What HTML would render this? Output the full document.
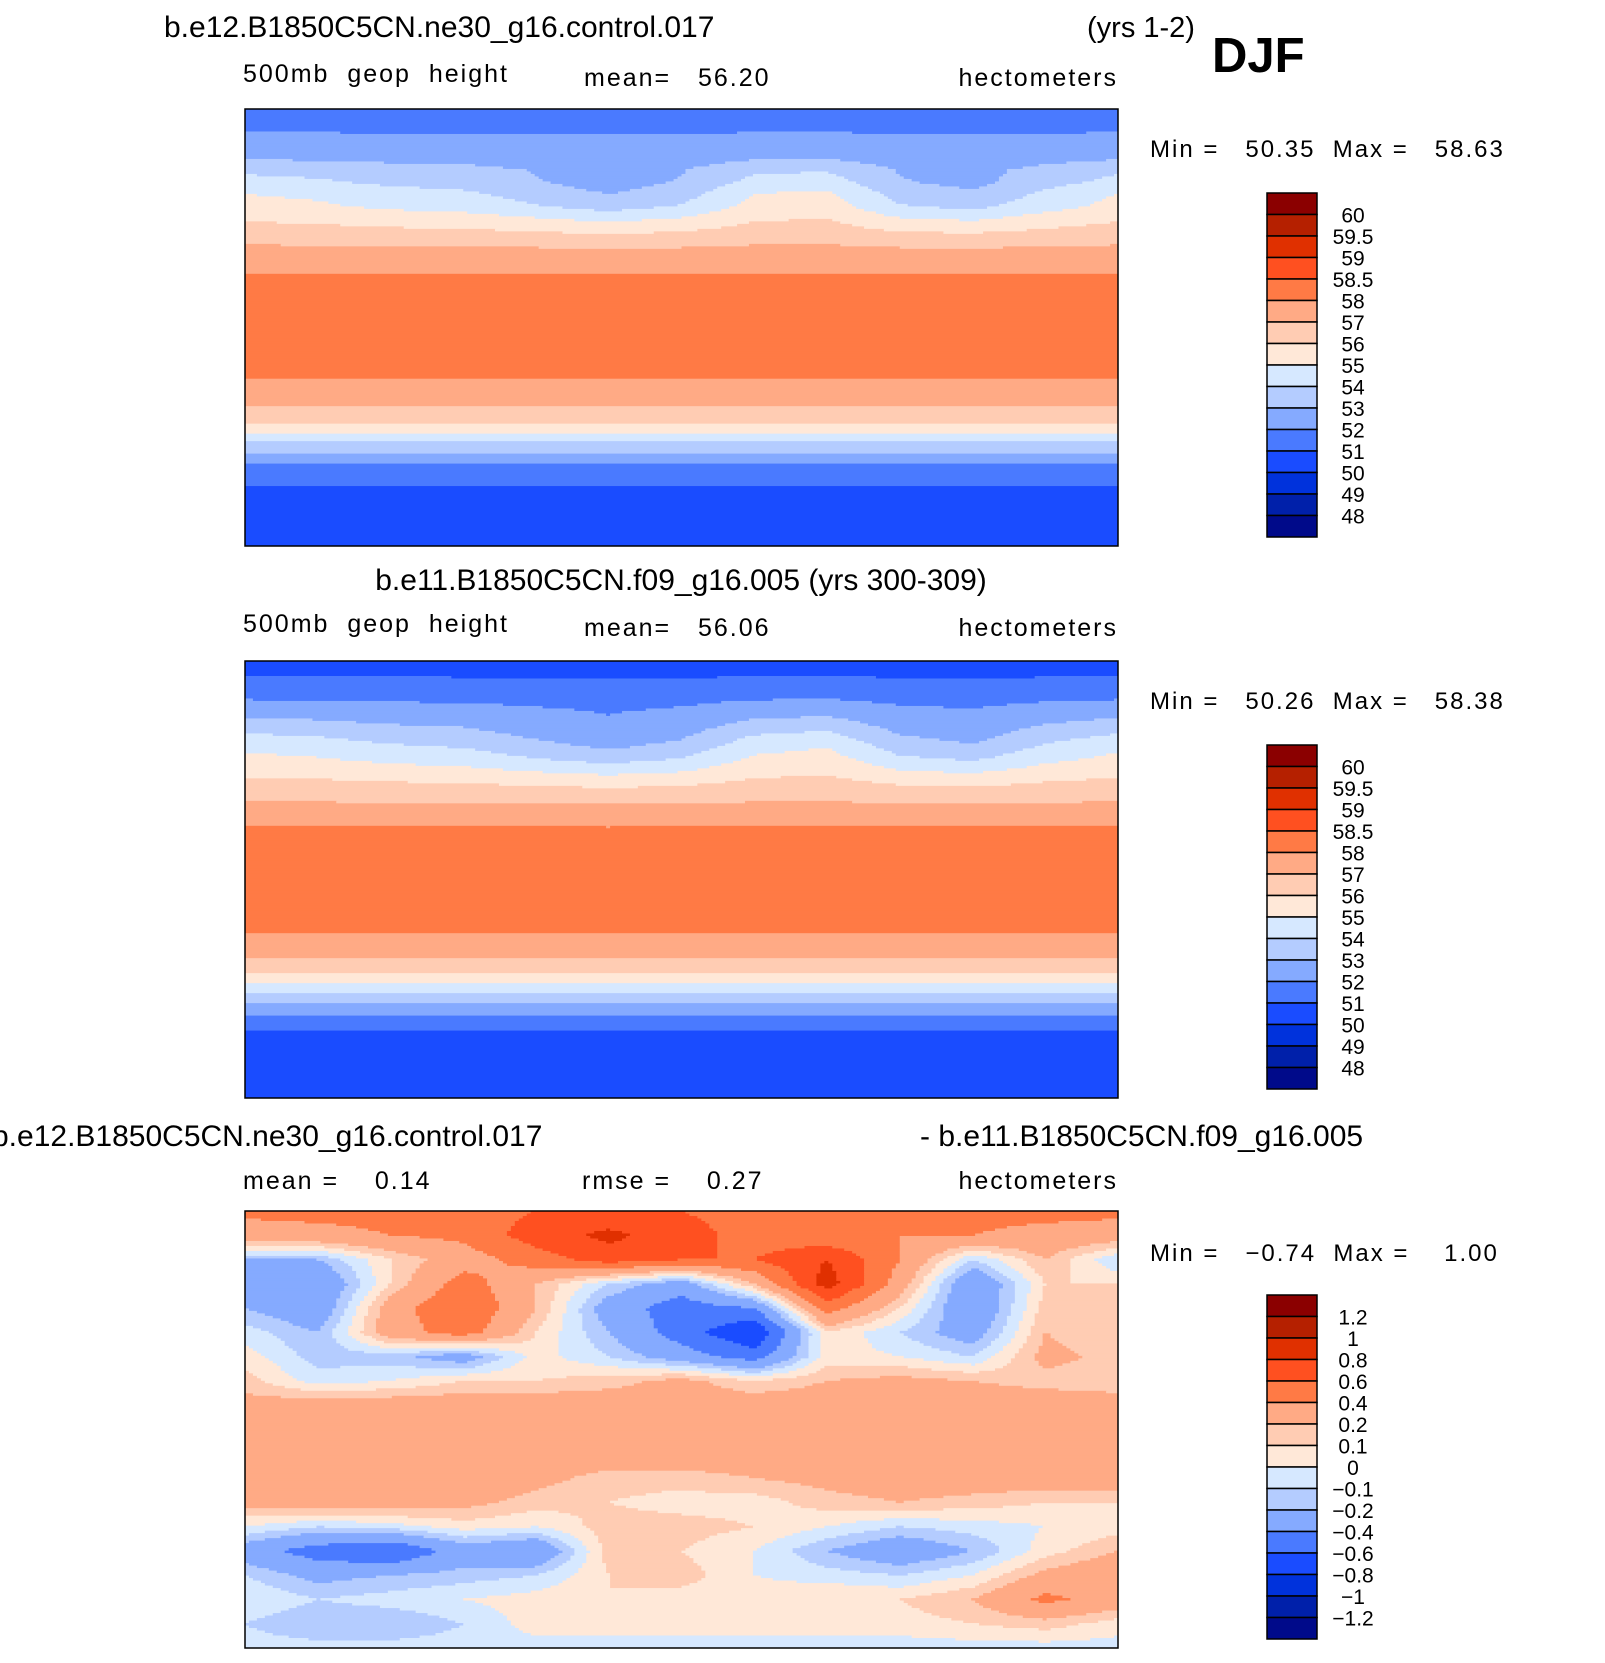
<!DOCTYPE html>
<html><head><meta charset="utf-8">
<style>
html,body{margin:0;padding:0;background:#fff;}
body{width:1605px;height:1663px;position:relative;overflow:hidden;font-family:"Liberation Sans",sans-serif;}
svg{position:absolute;left:0;top:0;}
text{white-space:pre;}
</style></head>
<body>
<svg id="fig" width="1605" height="1663" viewBox="0 0 1605 1663" xmlns="http://www.w3.org/2000/svg" font-family="Liberation Sans, sans-serif" xml:space="preserve">
  <g>
    <text x="164" y="37" font-size="30">b.e12.B1850C5CN.ne30_g16.control.017</text>
    <text x="1087" y="37" font-size="29">(yrs 1-2)</text>
    <text x="1212" y="72" font-size="49" font-weight="bold">DJF</text>
    <text x="243" y="82" font-size="25" letter-spacing="2">500mb  geop  height</text>
    <text x="584" y="86" font-size="25" letter-spacing="2">mean=   56.20</text>
    <text x="1118" y="86" font-size="25" text-anchor="end" letter-spacing="2">hectometers</text>
    <text x="1150" y="157" font-size="24" letter-spacing="2">Min =   50.35  Max =   58.63</text>
  </g>
  <g>
    <text x="681" y="590" font-size="30" text-anchor="middle">b.e11.B1850C5CN.f09_g16.005 (yrs 300-309)</text>
    <text x="243" y="632" font-size="25" letter-spacing="2">500mb  geop  height</text>
    <text x="584" y="636" font-size="25" letter-spacing="2">mean=   56.06</text>
    <text x="1118" y="636" font-size="25" text-anchor="end" letter-spacing="2">hectometers</text>
    <text x="1150" y="709" font-size="24" letter-spacing="2">Min =   50.26  Max =   58.38</text>
  </g>
  <g>
    <text x="-8" y="1146" font-size="30">b.e12.B1850C5CN.ne30_g16.control.017</text>
    <text x="920" y="1146" font-size="30">- b.e11.B1850C5CN.f09_g16.005</text>
    <text x="243" y="1189" font-size="25" letter-spacing="2">mean =    0.14</text>
    <text x="582" y="1189" font-size="25" letter-spacing="2">rmse =    0.27</text>
    <text x="1118" y="1189" font-size="25" text-anchor="end" letter-spacing="2">hectometers</text>
    <text x="1150" y="1261" font-size="24" letter-spacing="2">Min =   −0.74  Max =    1.00</text>
  </g>
  <g id="maps"></g>
  <g id="bars"></g>
</svg>
<script>
// ---- data ----
const colors = ['#000a8a','#0020aa','#0032dc','#1a4cff','#4a7aff','#85aaff','#b4ccff','#d6e8ff','#ffe8d8','#ffccb3','#ffaa85','#ff7a45','#ff5020','#e03000','#b52000','#8b0000'];
const levelsZ = [48,49,50,51,52,53,54,55,56,57,58,58.5,59,59.5,60];
const labelsZ = ['48','49','50','51','52','53','54','55','56','57','58','58.5','59','59.5','60'];
const levelsD = [-1.2,-1,-0.8,-0.6,-0.4,-0.2,-0.1,0,0.1,0.2,0.4,0.6,0.8,1,1.2];
const labelsD = ['\u22121.2','\u22121','\u22120.8','\u22120.6','\u22120.4','\u22120.2','\u22120.1','0','0.1','0.2','0.4','0.6','0.8','1','1.2'];
// zonal profiles, lat 90 -> -90 step 5
const profile1 = [51.6,51.6,52.0,52.5,52.6,53.3,53.6,54.2,54.6,55.4,56.1,56.8,57.4,57.8,58.2,58.3,58.3,58.3,58.3,58.3,58.3,58.3,58.1,57.7,57.2,56.7,56.0,54.6,53.3,52.3,51.3,51.0,50.6,50.6,50.8,50.9,50.9];
const profile2 = [50.8,50.9,51.2,51.8,52.3,52.8,53.4,54.0,54.6,55.3,56.0,56.6,57.2,57.8,58.1,58.2,58.2,58.2,58.2,58.2,58.2,58.2,58.1,57.8,57.3,56.6,55.8,54.5,53.2,52.2,51.2,50.8,50.7,50.7,50.8,50.9,50.9];
// northern mid-latitude wave anomaly (hm), 13 columns across map
const wave1 = [0.8,0.6,0.2,0.0,-0.6,-1.2,-0.6,0.8,1.0,-0.6,-1.0,0.0,0.8];
const wave2 = [0.7,0.5,0.1,-0.1,-0.7,-1.2,-0.7,0.6,0.9,-0.5,-0.9,0.1,0.7];
// difference grid: rows lat 90 -> -90 step 10, 13 columns across map
const diff90 = [0.45,0.45,0.45,0.5,0.6,0.65,0.6,0.5,0.45,0.45,0.45,0.45,0.45];
const diff80 = [0.3,0.35,0.4,0.45,0.7,0.85,0.7,0.5,0.45,0.4,0.4,0.35,0.3];
const diff70 = [-0.2,-0.2,0.1,0.3,0.5,0.7,0.6,0.6,0.8,0.4,-0.1,0.2,-0.1];
const diff60 = [-0.3,-0.4,0.1,0.5,0.2,-0.1,-0.3,0.2,0.9,0.3,-0.4,0.1,0.1];
const diff50 = [-0.2,-0.35,0.3,0.6,0.2,-0.3,-0.5,-0.4,0.5,0.1,-0.4,0.15,0.1];
const diff40 = [-0.05,-0.2,0.3,0.5,0.1,-0.2,-0.5,-0.8,0.1,-0.1,-0.3,0.2,0.1];
const diff30 = [0.05,-0.15,-0.15,-0.3,0.05,-0.1,-0.3,-0.5,0.05,0.0,-0.1,0.25,0.15];
const diff20 = [0.15,-0.05,0.0,0.1,0.1,0.15,0.25,0.1,0.2,0.25,0.2,0.15,0.15];
const diff10 = [0.25,0.3,0.3,0.3,0.3,0.3,0.3,0.3,0.3,0.3,0.3,0.3,0.25];
const diff00 = [0.3,0.3,0.3,0.3,0.3,0.3,0.3,0.3,0.3,0.3,0.3,0.3,0.3];
const diffS10 = [0.3,0.3,0.3,0.3,0.3,0.3,0.3,0.3,0.3,0.3,0.3,0.3,0.3];
const diffS20 = [0.3,0.3,0.3,0.3,0.25,0.15,0.15,0.2,0.25,0.3,0.3,0.3,0.3];
const diffS30 = [0.25,0.3,0.3,0.25,0.15,0.1,0.05,0.05,0.15,0.2,0.15,0.1,0.1];
const diffS40 = [0.0,-0.1,-0.05,0.05,0.0,0.15,0.15,0.1,0.0,-0.1,-0.05,0.0,0.05];
const diffS50 = [-0.3,-0.5,-0.6,-0.3,-0.4,0.15,0.1,0.0,-0.2,-0.35,-0.2,0.05,0.2];
const diffS60 = [-0.1,-0.25,-0.2,-0.15,-0.1,0.1,0.15,0.0,-0.05,-0.1,0.0,0.25,0.35];
const diffS70 = [0.0,-0.1,-0.05,0.0,0.05,0.1,0.05,0.05,0.1,0.1,0.2,0.45,0.3];
const diffS80 = [-0.1,-0.2,-0.2,-0.1,0.05,0.05,0.05,0.05,0.05,0.05,0.1,0.15,0.05];
const diffS90 = [-0.05,-0.05,-0.05,-0.05,-0.05,-0.05,-0.05,-0.05,-0.05,-0.05,-0.05,-0.05,-0.05];
const diffRows = [diff90,diff80,diff70,diff60,diff50,diff40,diff30,diff20,diff10,diff00,diffS10,diffS20,diffS30,diffS40,diffS50,diffS60,diffS70,diffS80,diffS90];

// ---- layout ----
const NS='http://www.w3.org/2000/svg';
const MX=245, MW=873, MH=437;
const panelTops=[109,661,1211];
const barTops=[193,745,1295];
const BX=1267, BW=50, BH=344;
function fracX(f){return MX+f*MW;}
function colorFor(v,lev){let i=0;while(i<lev.length&&v>=lev[i])i++;return colors[i];}
function mk(tag,attrs,parent){const e=document.createElementNS(NS,tag);for(const k in attrs)e.setAttribute(k,attrs[k]);parent.appendChild(e);return e;}
const maps=document.getElementById('maps');

function renderField(idx,name,fn,lev){
  const top=panelTops[idx];
  const g=mk('g',{},maps);
  
  
  const NR=175, NC=220;
  for(let r=0;r<NR;r++){
    const fy=(r+0.5)/NR;
    let runStart=0,runColor=null;
    for(let c=0;c<=NC;c++){
      const col = c<NC ? colorFor(fn(fy,(c+0.5)/NC),lev) : null;
      if(col!==runColor){
        if(runColor!==null){
          const e=mk('rect',{x:fracX(runStart/NC),y:top+r/NR*MH,width:(c-runStart)/NC*MW+0.5,height:MH/NR+0.5,fill:runColor},g);
          
          
        }
        runStart=c;runColor=col;
      }
    }
  }
  const b=mk('rect',{x:MX,y:top,width:MW,height:MH,fill:'none',stroke:'#000','stroke-width':1.5},g);
  
  
}
function interp1(arr,t){const n=arr.length-1;t=Math.max(0,Math.min(n,t));const i=Math.min(Math.floor(t),n-1);const f=t-i;return arr[i]*(1-f)+arr[i+1]*f;}
function zonalFn(prof,wave){
  return function(fy,fx){
    const lat=90-fy*180;
    const base=interp1(prof,fy*(prof.length-1));
    const w=Math.exp(-Math.pow((lat-55)/14,2));
    return base+w*interp1(wave,fx*(wave.length-1));
  };
}
function diffFn(fy,fx){
  const nrow=diffRows.length-1, ncol=diffRows[0].length-1;
  const ty=fy*nrow;const i=Math.min(Math.floor(ty),nrow-1);const gy=ty-i;
  const tx=fx*ncol;const j=Math.min(Math.floor(tx),ncol-1);const gx=tx-j;
  const a=diffRows[i][j],b=diffRows[i][j+1],c=diffRows[i+1][j],d=diffRows[i+1][j+1];
  return (a*(1-gx)+b*gx)*(1-gy)+(c*(1-gx)+d*gx)*gy;
}
renderField(0,'map-panel-1',zonalFn(profile1,wave1),levelsZ);
renderField(1,'map-panel-2',zonalFn(profile2,wave2),levelsZ);
renderField(2,'map-panel-3',diffFn,levelsD);

const bars=document.getElementById('bars');
function colorbar(idx,labels){
  const top=barTops[idx];const h=BH/16;
  const g=mk('g',{},bars);
  
  
  for(let k=0;k<16;k++){
    const e=mk('rect',{x:BX,y:top+k*h,width:BW,height:h,fill:colors[15-k],stroke:'#000','stroke-width':1.5},g);
    
    
  }
  for(let k=0;k<15;k++){
    const t=mk('text',{x:1353,y:top+(k+1)*h+8,'font-size':21,'text-anchor':'middle'},g);
    
    
    t.textContent=labels[14-k];
  }
}
colorbar(0,labelsZ);
colorbar(1,labelsZ);
colorbar(2,labelsD);
</script>
</body></html>
